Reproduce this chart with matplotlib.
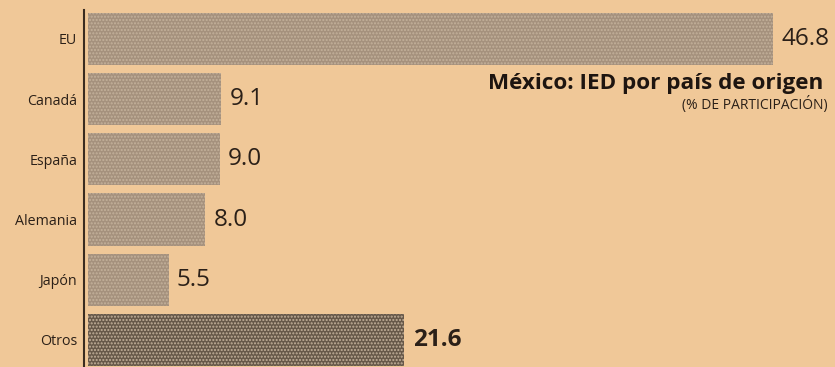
import matplotlib.pyplot as plt

# IED en México por país de origen, % de participación
paises = ['EU', 'Canadá', 'España', 'Alemania', 'Japón', 'Otros']
participacion = [46.8, 9.1, 9.0, 8.0, 5.5, 21.6]

titulo = 'México: IED por país de origen'
subtitulo = '(% DE PARTICIPACIÓN)'

plt.rcParams['font.family'] = ['Open Sans', 'DejaVu Sans']

papel = '#f0c898'
barra = '#a5917d'
barra_otros = '#675849'
tinta = '#2b2018'

fig = plt.figure(figsize=(8.35, 3.67), dpi=100, facecolor=papel)
ax = fig.add_axes([84 / 835, 0, 751 / 835, 357 / 367])
ax.set_facecolor(papel)

pos = list(range(len(paises)))
colores = [barra_otros if p == 'Otros' else barra for p in paises]
bars = ax.barh(pos, participacion, height=0.865, color=colores,
               edgecolor='#c4b19b', linewidth=0, hatch='.....')

ax.set_xlim(-0.27, 51.0)
ax.set_ylim(5.45, -0.48)

for p, v in zip(pos, participacion):
    otros = paises[p] == 'Otros'
    ax.annotate(f'{v:.1f}', (v, p), xytext=(6, 0), textcoords='offset points',
                va='center', ha='left', color=tinta,
                fontsize=17.5, fontweight='bold' if otros else 'normal')

ax.set_yticks(pos)
ax.set_yticklabels(paises, fontsize=10.3, color=tinta)
ax.tick_params(axis='y', length=0, pad=5)
ax.set_xticks([])

for s in ['top', 'right', 'bottom']:
    ax.spines[s].set_visible(False)
ax.spines['left'].set_color('#3a2c20')
ax.spines['left'].set_linewidth(1.5)

fig.text(823 / 835, 1 - 84 / 367, titulo, ha='right', va='center',
         fontsize=16.2, fontweight='bold', color='#1e1510')
fig.text(828 / 835, 1 - 105 / 367, subtitulo, ha='right', va='center',
         fontsize=10, color=tinta)

fig.savefig('out.png', dpi=100, facecolor=papel)
